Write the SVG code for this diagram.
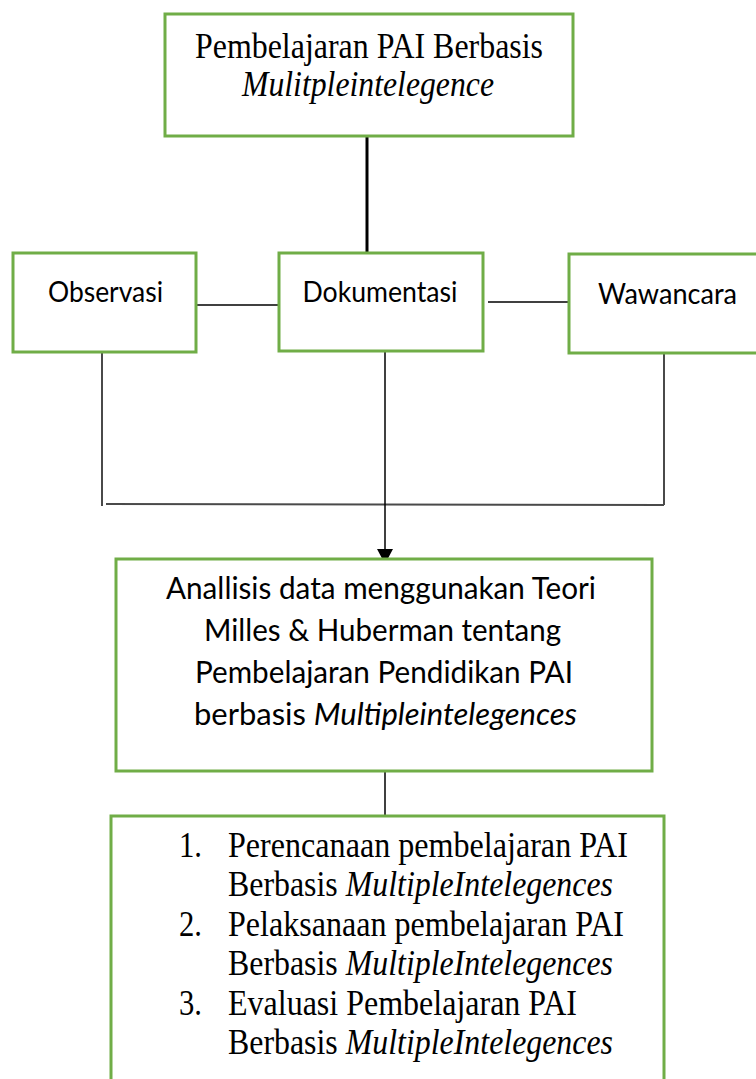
<svg xmlns="http://www.w3.org/2000/svg" width="756" height="1079" viewBox="0 0 756 1079">
  <style>
    .box { fill: #ffffff; stroke: #70AD47; stroke-width: 3; }
    .serif { font-family: "Liberation Serif", "Times New Roman", serif; font-size: 35px; fill: #000000; }
    .sans { font-family: Lato, "Open Sans", "Liberation Sans", sans-serif; fill: #000000; }
    .it { font-style: italic; }
    .link { stroke: #000000; stroke-width: 1.5; fill: none; }
    .link-thick { stroke: #000000; stroke-width: 3; fill: none; }
    .link-grey { stroke: #4a4a4a; stroke-width: 2; fill: none; }
  </style>

  <rect width="756" height="1079" fill="#ffffff"/>

  <!-- connectors -->
  <g id="connectors">
    <line class="link-thick" x1="367" y1="136" x2="367" y2="253"/>
    <line class="link" x1="196" y1="305" x2="279" y2="305"/>
    <line class="link" x1="488" y1="302" x2="569" y2="302"/>
    <line class="link-grey" x1="102" y1="352" x2="102" y2="506"/>
    <line class="link-grey" x1="664" y1="354" x2="664" y2="505"/>
    <line class="link-grey" x1="106" y1="504" x2="664" y2="505"/>
    <line class="link" x1="385" y1="351" x2="385" y2="549"/>
    <path d="M377,549 L393,549 L385,564 Z" fill="#000000"/>
    <line class="link" x1="385" y1="771" x2="385" y2="816"/>
  </g>

  <!-- top node -->
  <g id="node-pembelajaran">
    <rect class="box" x="165" y="14" width="408" height="122"/>
    <text class="serif" font-size="32" x="369" y="58" text-anchor="middle" textLength="348" lengthAdjust="spacingAndGlyphs">Pembelajaran PAI Berbasis</text>
    <text class="serif it" font-size="32" x="368" y="96" text-anchor="middle" textLength="252" lengthAdjust="spacingAndGlyphs">Mulitpleintelegence</text>
  </g>

  <!-- data collection nodes -->
  <g id="node-observasi">
    <rect class="box" x="13" y="253" width="183" height="99"/>
    <text class="sans" font-size="28" x="105.5" y="302" text-anchor="middle" textLength="115" lengthAdjust="spacingAndGlyphs">Observasi</text>
  </g>
  <g id="node-dokumentasi">
    <rect class="box" x="279" y="253" width="204" height="98"/>
    <text class="sans" font-size="28" x="380" y="302" text-anchor="middle" textLength="155" lengthAdjust="spacingAndGlyphs">Dokumentasi</text>
  </g>
  <g id="node-wawancara">
    <rect class="box" x="569" y="254" width="195" height="99"/>
    <text class="sans" font-size="28" x="667.5" y="304" text-anchor="middle" textLength="139" lengthAdjust="spacingAndGlyphs">Wawancara</text>
  </g>

  <!-- analysis node -->
  <g id="node-analisis">
    <rect class="box" x="116" y="559" width="536" height="212"/>
    <text class="sans" font-size="31" x="381" y="599" text-anchor="middle" textLength="430" lengthAdjust="spacingAndGlyphs">Anallisis data menggunakan Teori</text>
    <text class="sans" font-size="31" x="382.5" y="641" text-anchor="middle" textLength="357" lengthAdjust="spacingAndGlyphs">Milles &amp; Huberman tentang</text>
    <text class="sans" font-size="31" x="384" y="683" text-anchor="middle" textLength="378" lengthAdjust="spacingAndGlyphs">Pembelajaran Pendidikan PAI</text>
    <text class="sans" font-size="31" x="385.5" y="725" text-anchor="middle" textLength="383" lengthAdjust="spacingAndGlyphs">berbasis <tspan class="it">Multipleintelegences</tspan></text>
  </g>

  <!-- result node (bottom edge runs past the page) -->
  <g id="node-hasil">
    <path class="box" d="M111,1090 L111,816 L664,816 L664,1090"/>
    <text class="serif" x="179" y="857" textLength="23" lengthAdjust="spacingAndGlyphs">1.</text>
    <text class="serif" x="228" y="857" textLength="400" lengthAdjust="spacingAndGlyphs">Perencanaan pembelajaran PAI</text>
    <text class="serif" x="228" y="896" textLength="385" lengthAdjust="spacingAndGlyphs">Berbasis <tspan class="it">MultipleIntelegences</tspan></text>
    <text class="serif" x="179" y="936" textLength="23" lengthAdjust="spacingAndGlyphs">2.</text>
    <text class="serif" x="228" y="936" textLength="396" lengthAdjust="spacingAndGlyphs">Pelaksanaan pembelajaran PAI</text>
    <text class="serif" x="228" y="975" textLength="385" lengthAdjust="spacingAndGlyphs">Berbasis <tspan class="it">MultipleIntelegences</tspan></text>
    <text class="serif" x="179" y="1015" textLength="23" lengthAdjust="spacingAndGlyphs">3.</text>
    <text class="serif" x="228" y="1015" textLength="349" lengthAdjust="spacingAndGlyphs">Evaluasi Pembelajaran PAI</text>
    <text class="serif" x="228" y="1054" textLength="385" lengthAdjust="spacingAndGlyphs">Berbasis <tspan class="it">MultipleIntelegences</tspan></text>
  </g>
</svg>
